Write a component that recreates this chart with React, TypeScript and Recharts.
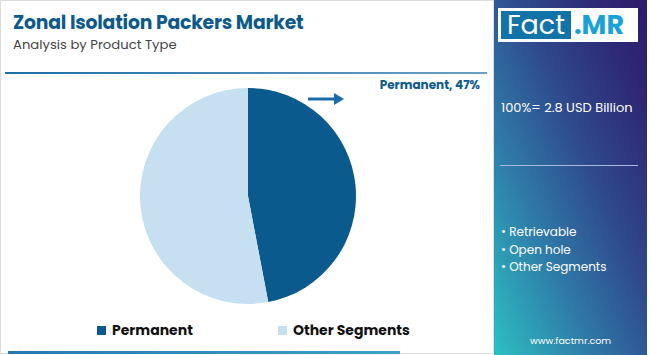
import { Legend, Pie, PieChart, Cell } from "recharts";

const segments = ["Permanent", "Other Segments"];
const shares = [47, 53];
const sliceColors = ["#0b5a8e", "#c6e0f2"];
const otherSegments = ["Retrievable", "Open hole", "Other Segments"];
const totalLabel = "100%= 2.8 USD Billion";

const data = segments.map((name, i) => ({ name, value: shares[i] }));

const font = "Poppins, Inter, 'Noto Sans', sans-serif";

function SliceLabel(props: any) {
  const { cx, cy, outerRadius, index, name, value } = props;
  if (index !== 0) return null;
  const y = cy - outerRadius + 11;
  const x0 = cx + 60;
  const x1 = cx + 96;
  return (
    <g>
      <line x1={x0} y1={y} x2={x1 - 8} y2={y} stroke="#1a6ca8" strokeWidth={3} />
      <polygon points={`${x1 - 10},${y - 6} ${x1},${y} ${x1 - 10},${y + 6}`} fill="#1a6ca8" />
      <text x={480} y={cy - outerRadius + 1} textAnchor="end" fill="#0d5a8a" fontSize={12} fontWeight={700} fontFamily={font}>
        {`${name}, ${value}%`}
      </text>
    </g>
  );
}

function LegendRow() {
  return (
    <div style={{ display: "flex", fontFamily: font, fontSize: 14, fontWeight: 700, color: "#111" }}>
      {data.map((d, i) => (
        <div key={d.name} style={{ display: "flex", alignItems: "center", width: i === 0 ? 181 : 200 }}>
          <span style={{ display: "inline-block", width: 9, height: 9, background: sliceColors[i], marginRight: 6 }} />
          {d.name}
        </div>
      ))}
    </div>
  );
}

export default function App() {
  return (
    <div style={{ position: "fixed", left: 0, top: 0, width: 650, height: 355, background: "#fff", overflow: "hidden", fontFamily: font }}>
      <div style={{ position: "absolute", left: 0, top: 0, width: 494, height: 354, border: "1px solid #dcdcdc", boxSizing: "border-box" }} />
      <div style={{ position: "absolute", left: 13, top: 12, fontSize: 18.8, lineHeight: "22px", fontWeight: 700, color: "#0d5a8a", letterSpacing: -0.2 }}>Zonal Isolation Packers Market</div>
      <div style={{ position: "absolute", left: 13, top: 37, fontSize: 13.2, lineHeight: "16px", color: "#444" }}>Analysis by Product Type</div>
      <div style={{ position: "absolute", left: 5, top: 72, width: 482, height: 2, background: "linear-gradient(to right, #1d6fa5, #6d9fc6)" }} />
      <div style={{ position: "absolute", left: 8, top: 351, width: 392, height: 3, background: "linear-gradient(to right, #2a78ad, #3fa0c9)" }} />

      <div style={{ position: "absolute", left: 0, top: 0 }}>
        <PieChart width={494} height={355}>
          <Pie
            data={data}
            dataKey="value"
            nameKey="name"
            cx={243}
            cy={191}
            outerRadius={108}
            startAngle={90}
            endAngle={-270}
            stroke="none"
            label={SliceLabel}
            labelLine={false}
            isAnimationActive={false}
          >
            {data.map((d, i) => (
              <Cell key={d.name} fill={sliceColors[i]} />
            ))}
          </Pie>
          <Legend content={<LegendRow />} wrapperStyle={{ position: "absolute", left: 97, top: 320, width: 400 }} />
        </PieChart>
      </div>

      <div
        style={{
          position: "absolute",
          left: 494,
          top: 0,
          width: 153,
          height: 355,
          background: "linear-gradient(to top right, #2cc0c2 0%, #2f7aa8 32%, #2f4a8c 58%, #2e2a76 82%, #2d1b68 100%)",
          color: "#fff",
        }}
      >
        <div style={{ position: "absolute", left: 4, top: 8, width: 140, height: 34, background: "#fff" }}>
          <div style={{ position: "absolute", left: 3, top: 3, width: 70, height: 28, background: "#1273a8", color: "#fff", fontSize: 27, lineHeight: "28px", textAlign: "center", fontWeight: 400 }}>Fact</div>
          <div style={{ position: "absolute", left: 76, top: 3, height: 28, color: "#1aa2d8", fontSize: 27, lineHeight: "28px", fontWeight: 700 }}>.MR</div>
        </div>
        <div style={{ position: "absolute", left: 7, top: 98, fontSize: 13 }}>{totalLabel}</div>
        <div style={{ position: "absolute", left: 6, top: 165, width: 138, height: 1, background: "#a9b9e0" }} />
        <div style={{ position: "absolute", left: 7, top: 223, fontSize: 12, lineHeight: "17.5px" }}>
          {otherSegments.map((s) => (
            <div key={s}>{"\u2022 " + s}</div>
          ))}
        </div>
        <div style={{ position: "absolute", left: 0, top: 334, width: 153, textAlign: "center", fontSize: 9.5 }}>www.factmr.com</div>
      </div>
    </div>
  );
}
